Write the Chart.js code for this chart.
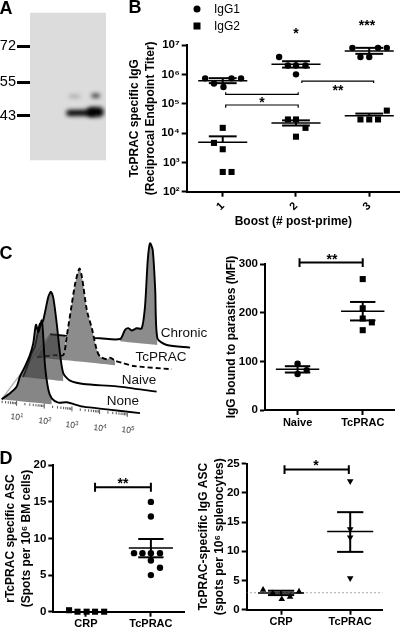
<!DOCTYPE html>
<html>
<head>
<meta charset="utf-8">
<title>TcPRAC figure</title>
<style>
html, body { margin: 0; padding: 0; background: #fff; }
body { position: relative; width: 400px; height: 627px; overflow: hidden; font-family: "Liberation Sans"; color: #000; }
canvas { position: absolute; }
.t { position: absolute; transform: translate(-50%, -50%); white-space: nowrap; line-height: 1; }
.letter { font-weight: bold; font-size: 18px; }
.star { font-weight: bold; font-size: 14px; }
.hist { font-size: 13.5px; color: #111; }
.dec { font-size: 8.5px; color: #333; }
.dec sup { font-size: 6px; vertical-align: 3px; line-height: 0; }
.leg { font-size: 12px; transform: translate(0, -50%); }
.mark { position: absolute; width: 7px; height: 7px; background: #000; transform: translate(-50%, -50%); }
</style>
</head>
<body>
<canvas id="blot" width="110" height="170" style="left:0;top:0"></canvas>
<canvas id="boost" width="274" height="240" style="left:126px;top:0"></canvas>
<canvas id="flow" width="210" height="190" style="left:0;top:240px"></canvas>
<canvas id="mfi" width="195" height="195" style="left:205px;top:240px"></canvas>
<canvas id="bm" width="190" height="187" style="left:0;top:440px"></canvas>
<canvas id="spleen" width="205" height="187" style="left:195px;top:440px"></canvas>

<div class="t letter" style="left:6px;top:8px">A</div>
<div class="t letter" style="left:135px;top:7px">B</div>
<div class="t letter" style="left:6px;top:253px">C</div>
<div class="t letter" style="left:6px;top:458px">D</div>

<div class="mark" style="left:197px;top:9px;border-radius:50%"></div>
<div class="t leg" style="left:214px;top:9px">IgG1</div>
<div class="mark" style="left:197px;top:26px"></div>
<div class="t leg" style="left:214px;top:26px">IgG2</div>

<div class="t star" style="left:296px;top:33px">*</div>
<div class="t star" style="left:367px;top:25px">***</div>
<div class="t star" style="left:262px;top:102px">*</div>
<div class="t star" style="left:338px;top:90px">**</div>
<div class="t star" style="left:332px;top:259px">**</div>
<div class="t star" style="left:123px;top:483px">**</div>
<div class="t star" style="left:316px;top:465px">*</div>

<div class="t hist" style="left:184px;top:333px">Chronic</div>
<div class="t hist" style="left:161px;top:357px">TcPRAC</div>
<div class="t hist" style="left:139px;top:380px">Naive</div>
<div class="t hist" style="left:123px;top:401px">None</div>

<div class="t dec" style="left:17px;top:417px;transform:translate(-50%,-50%) rotate(6deg)">10<sup>1</sup></div>
<div class="t dec" style="left:45px;top:421px;transform:translate(-50%,-50%) rotate(6deg)">10<sup>2</sup></div>
<div class="t dec" style="left:72px;top:425px;transform:translate(-50%,-50%) rotate(6deg)">10<sup>3</sup></div>
<div class="t dec" style="left:100px;top:428px;transform:translate(-50%,-50%) rotate(6deg)">10<sup>4</sup></div>
<div class="t dec" style="left:128px;top:430px;transform:translate(-50%,-50%) rotate(6deg)">10<sup>5</sup></div>

<script src="https://cdn.jsdelivr.net/npm/chart.js"></script>
<script>
// panel A
const laneLabels = ['1', '2'];
const markerKda = [72, 55, 43];
const bandMainLeftX = [1.6, 2.2], bandMainLeftKda = [43.8, 43.9];
const bandMainRightX = [2.2, 2.39], bandMainRightKda = [44.1, 44.1];
const bandUpperLeftX = [1.63, 1.85], bandUpperLeftKda = [49.6, 49.6];
const bandUpperRightX = [2.24, 2.37], bandUpperRightKda = [49.8, 49.8];

// panel B
const boostTicks = [1e2, 1e3, 1e4, 1e5, 1e6, 1e7];
const boostTickLabels = ['10²', '10³', '10⁴', '10⁵', '10⁶', '10⁷'];
const igg1X = [0.76, 0.88, 1.01, 1.12, 1.25, 1.77, 1.89, 2, 2.13, 2, 2.77, 2.88, 3, 3.12, 3.24];
const igg1Y = [7.3e5, 4.9e5, 3.7e5, 7.3e5, 7.3e5, 3.9e6, 2e6, 2e6, 2e6, 1e6, 8e6, 3.9e6, 3.9e6, 8e6, 8e6];
const igg2X = [1, 0.88, 1, 1, 1.12, 1.89, 2, 2.13, 2, 2.88, 3, 3.12, 3.24];
const igg2Y = [1.5e4, 4.6e3, 2.8e3, 4.7e2, 4.7e2, 2.9e4, 2.9e4, 1.5e4, 7.5e3, 2.9e4, 2.9e4, 2.9e4, 5.8e4];
const boostGroups = [1, 2, 3];
const igg1Mean = [6.1e5, 2.2e6, 6.3e6], igg1Hi = [7.4e5, 2.8e6, 8e6], igg1Lo = [5e5, 1.7e6, 5e6];
const igg2Mean = [4.8e3, 2.2e4, 3.9e4], igg2Hi = [7.7e3, 2.7e4, 4.6e4], igg2Lo = [4.8e3, 1.8e4, 3.9e4];
const sig1X = [1.04, 1.04, 2.03, 2.03], sig1Y = [2.43e5, 2.08e5, 2.08e5, 2.43e5];
const sig2X = [1.04, 1.04, 2.03, 2.03], sig2Y = [7.3e4, 9e4, 9e4, 7.3e4];
const sig3X = [2.08, 2.08, 3.06, 3.06], sig3Y = [5.07e5, 5.9e5, 5.9e5, 5.07e5];

// panel C histograms: decades from the start of each trace, height above its baseline
const noneD = [0, 0.3, 0.54, 0.66, 0.84, 1.02, 1.14, 1.24, 1.33, 1.45, 1.51, 1.57, 1.69, 1.81, 2.05, 2.35, 2.95, 3.8, 5];
const noneC = [0, 6.8, 14, 24.5, 35, 47, 59, 78, 71, 83, 63.5, 37, 14, 6, 2.3, 3.5, 0.8, 0.5, 0];
const naiveD = [0, 0.13, 0.31, 0.43, 0.61, 0.71, 0.8, 0.92, 1.01, 1.1, 1.22, 1.34, 1.46, 1.7, 2.18, 3.39, 4.83];
const naiveC = [0, 9, 24.5, 31.5, 55, 57, 67.5, 83, 88, 81.7, 57, 27, 7.7, 1, -1, 0, -1.3];
const tcpracD = [0, 0.66, 0.96, 1.08, 1.27, 1.39, 1.54, 1.63, 1.81, 1.99, 2.17, 2.29, 2.53, 2.65, 2.83, 3.13, 3.49, 4.88];
const tcpracC = [0, 4, 5, 23.7, 57.5, 78, 93, 85, 52, 34.5, 13, 7, 5, 7, 4.5, 2.7, 1, 1.5];
const chronicD = [0, 1.2, 1.81, 2.53, 2.71, 2.83, 2.95, 3.13, 3.31, 3.43, 3.53, 3.61, 3.71, 3.8, 3.88, 4.22, 5.06];
const chronicC = [0, 0.3, 1, 2.3, 12, 14, 12, 14.7, 15, 37, 84, 101, 94.6, 55, 6.7, 1, 0.7];

// panel C dot plot
const mfiLabels = ['Naive', 'TcPRAC'];
const mfiNaiveX = [1, 1.14, 1], mfiNaiveY = [95, 82, 74];
const mfiTcpracX = [2, 2, 2, 2.14, 2], mfiTcpracY = [269, 209, 188, 180, 164];
const mfiMean = [83.5, 203], mfiHi = [90, 222], mfiLo = [77, 184];
const mfiSigX = [1.03, 1.03, 1.03, 2, 2, 2], mfiSigY = [312, 294, 303, 303, 312, 294];

// panel D left
const bmLabels = ['CRP', 'TcPRAC'];
const bmCrpX = [0.74, 0.87, 1.01, 1.14, 1.28], bmCrpY = [0.2, 0, 0, 0, 0];
const bmTcpracX = [2, 2, 1.74, 1.87, 2, 2.14, 2, 2.14, 2], bmTcpracY = [15, 13, 8, 8, 8, 8, 7, 6, 5];
const bmMean = [0, 8.7], bmHi = [0, 9.93], bmLo = [0, 7.43];
const bmSigX = [1.14, 1.14, 1.14, 2, 2, 2], bmSigY = [17.6, 16.4, 17, 17, 17.6, 16.4];

// panel D right
const spleenLabels = ['CRP', 'TcPRAC'];
const spleenCrpX = [0.74, 0.88, 1.01, 1.13, 1.26], spleenCrpY = [3.4, 2.8, 1.8, 2.2, 3.1];
const spleenTcpracX = [2, 2, 2, 2], spleenTcpracY = [22, 13.8, 12.4, 5.4];
const spleenMean = [2.85, 13.4], spleenHi = [3.25, 16.7], spleenLo = [2.5, 9.9];
const spleenSigX = [1.05, 1.05, 1.05, 1.98, 1.98, 1.98], spleenSigY = [24.75, 23.25, 24, 24, 24.75, 23.25];
const spleenCutoffX = [0.5, 2.47], spleenCutoffY = [2.9, 2.9];

const BOLD = { family: 'Liberation Sans', weight: 'bold', size: 11.5 };
Chart.defaults.font.family = 'Liberation Sans';
Chart.defaults.color = '#000';

function pts(xs, ys) {
  return xs.map((x, i) => ({ x: x, y: ys[i] }));
}

function line(xs, ys, width, extra) {
  return Object.assign({
    data: pts(xs, ys), showLine: true, borderColor: '#000', borderWidth: width,
    pointRadius: 0, tension: 0, clip: false
  }, extra || {});
}

function dots(xs, ys, style, radius, rotation) {
  return {
    data: pts(xs, ys), pointStyle: style, pointRadius: radius, pointRotation: rotation || 0,
    pointBackgroundColor: '#000', pointBorderColor: '#000', pointBorderWidth: 0, clip: false
  };
}

// mean line, SEM stem and caps for each group
function meanBars(centers, mean, hi, lo, halfMean, halfCap) {
  const out = [];
  centers.forEach((c, i) => {
    out.push(line([c - halfMean, c + halfMean], [mean[i], mean[i]], 1.5));
    if (hi[i] === lo[i]) return;
    out.push(line([c, c], [lo[i], hi[i]], 2));
    out.push(line([c - halfCap, c + halfCap], [hi[i], hi[i]], 2));
    if (lo[i] !== mean[i]) out.push(line([c - halfCap, c + halfCap], [lo[i], lo[i]], 2));
  });
  return out;
}

function baseScales(opts) {
  const tickCommon = { drawOnChartArea: false, drawTicks: true, tickLength: 5, tickWidth: 2, tickColor: '#000' };
  return {
    x: {
      type: 'linear', min: opts.xMin, max: opts.xMax,
      afterFit: a => { a.height = opts.bottom; },
      afterBuildTicks: a => { a.ticks = opts.xTicks.map(v => ({ value: v })); },
      grid: tickCommon, border: { color: '#000', width: 2 },
      ticks: Object.assign({ font: { weight: 'bold', size: 11 }, padding: 1, autoSkip: false, maxRotation: 0, minRotation: 0,
        callback: v => opts.xLabels[opts.xTicks.indexOf(v)] }, opts.xTickOpts || {}),
      title: opts.xTitle || { display: false }
    },
    y: {
      type: opts.yType || 'linear', min: opts.yMin, max: opts.yMax,
      afterFit: a => { a.width = opts.left; },
      afterBuildTicks: a => { a.ticks = opts.yTicks.map(v => ({ value: v })); },
      grid: tickCommon, border: { color: '#000', width: 2 },
      ticks: { font: BOLD, padding: 2, autoSkip: false, callback: opts.yLabel || (v => v) },
      title: { display: true, text: opts.yTitle, font: { weight: 'bold', size: 12, lineHeight: 1.38 }, padding: { top: opts.titleTop, bottom: 0 } }
    }
  };
}

function draw(id, datasets, scales, padding, plugins) {
  return new Chart(document.getElementById(id), {
    type: 'scatter',
    data: { datasets: datasets },
    plugins: plugins || [],
    options: {
      responsive: false, animation: false, events: [],
      layout: { autoPadding: false, padding: padding },
      plugins: { legend: { display: false }, tooltip: { enabled: false } },
      scales: scales
    }
  });
}

// ---- A: blot
const blotPaper = {
  id: 'blotPaper',
  beforeDatasetsDraw(chart) {
    const a = chart.chartArea, ctx = chart.ctx;
    ctx.save();
    ctx.fillStyle = '#dcdcdc';
    ctx.fillRect(a.left, a.top, a.width, a.height);
    ctx.restore();
    ctx.filter = 'blur(2px)';
  },
  afterDatasetsDraw(chart) { chart.ctx.filter = 'none'; }
};
draw('blot', [
  line(bandMainLeftX, bandMainLeftKda, 6, { borderCapStyle: 'round', clip: undefined }),
  line(bandMainRightX, bandMainRightKda, 10, { borderCapStyle: 'round', clip: undefined }),
  line(bandUpperLeftX, bandUpperLeftKda, 3, { borderColor: '#a0a0a0', borderCapStyle: 'round', clip: undefined }),
  line(bandUpperRightX, bandUpperRightKda, 4, { borderColor: '#333', borderCapStyle: 'round', clip: undefined })
], {
  x: {
    type: 'linear', position: 'top', min: 0.556, max: 2.58,
    afterFit: a => { a.height = 12.7; },
    afterBuildTicks: a => { a.ticks = [1, 2].map(v => ({ value: v })); },
    grid: { display: false }, border: { display: false },
    ticks: { font: { size: 13 }, padding: 0, callback: v => laneLabels[v - 1] }
  },
  y: {
    type: 'logarithmic', min: 30.8, max: 92.5,
    afterFit: a => { a.width = 30; },
    afterBuildTicks: a => { a.ticks = markerKda.map(v => ({ value: v })); },
    grid: { drawOnChartArea: false, tickLength: 13, tickWidth: 3, tickColor: '#000' },
    border: { display: false },
    ticks: { font: { size: 14.5 }, padding: 1, autoSkip: false, callback: v => String(v) }
  }
}, { right: 4, bottom: 8 }, [blotPaper]);

// ---- B: titers
draw('boost', [].concat(
  [dots(igg1X, igg1Y, 'circle', 3.2), dots(igg2X, igg2Y, 'rect', 4.3)],
  meanBars(boostGroups, igg1Mean, igg1Hi, igg1Lo, 0.335, 0.19),
  meanBars(boostGroups, igg2Mean, igg2Hi, igg2Lo, 0.335, 0.19),
  [line(sig1X, sig1Y, 1.2), line(sig2X, sig2Y, 1.2), line(sig3X, sig3Y, 1.2)]
), baseScales({
  xMin: 0.508, xMax: 3.42, xTicks: boostGroups, xLabels: ['1', '2', '3'],
  xTickOpts: { maxRotation: 45, minRotation: 45, padding: 3 },
  xTitle: { display: true, text: 'Boost (# post-prime)', font: { weight: 'bold', size: 12 }, padding: { top: 0, bottom: 11 } },
  bottom: 48.3, left: 60.7,
  yType: 'logarithmic', yMin: 1e2, yMax: 1e7, yTicks: boostTicks,
  yLabel: v => boostTickLabels[boostTicks.indexOf(v)],
  yTitle: ['TcPRAC specific IgG', '(Reciprocal Endpoint Titer)'], titleTop: 0
}), { top: 45 });

// ---- C: overlay histograms, each trace shifted back and sheared
const layerDx = [0, 0.77, 1.27, 1.75];
const layerDy = [0, 22.3, 42, 65];
const SHEAR = 2.77;
const histD = [noneD, naiveD, tcpracD, chronicD];
const histC = [noneC, naiveC, tcpracC, chronicC];
const histFillFrom = [0, 0, 0.96, 2.53];
const histFillTo = [1.81, 1.46, 2.83, 3.88];
const histFillColor = ['rgba(60,60,60,0.62)', 'rgba(60,60,60,0.62)', '#8c8c8c', '#8c8c8c'];

const flowSets = [];
histD.forEach((ds, i) => {
  const cs = histC[i];
  const xs = ds.map(d => d + layerDx[i]);
  const height = (d, c) => layerDy[i] + c - SHEAR * d;
  const idx = ds.map((d, k) => k).filter(k => ds[k] >= histFillFrom[i] && ds[k] <= histFillTo[i]);
  const baseIndex = flowSets.length + 2;
  flowSets.push(line(xs, ds.map((d, k) => height(d, cs[k])), 1.9,
    { tension: 0.25, borderDash: i === 2 ? [5, 3] : [] }));
  flowSets.push(line(idx.map(k => xs[k]), idx.map(k => height(ds[k], cs[k])), 0,
    { tension: 0.25, fill: { target: baseIndex }, backgroundColor: histFillColor[i] }));
  flowSets.push(line(idx.map(k => xs[k]), idx.map(k => height(ds[k], 0)), 0));
});
flowSets.push(line([0, layerDx[3]], [0, layerDy[3]], 1.4, { borderColor: '#b0b0b0' }));

// grey plane between the back trace baseline and the TcPRAC baseline, left of the TcPRAC peak
const planeEnd = layerDx[2] + histFillFrom[2] + 0.06;
const planeMidX = [layerDx[2], layerDx[3], planeEnd];
const planeTop = [layerDy[2], layerDy[3], layerDy[3] - SHEAR * (planeEnd - layerDx[3])];
const planeBottom = [layerDy[2], layerDy[2] - SHEAR * (layerDx[3] - layerDx[2]), layerDy[2] - SHEAR * (planeEnd - layerDx[2])];
const planeBase = flowSets.length + 1;
flowSets.push(line(planeMidX, planeTop, 0, { fill: { target: planeBase }, backgroundColor: '#8c8c8c' }));
flowSets.push(line(planeMidX, planeBottom, 0));

const decadeStart = 0.54;
const majorX = [0, 1, 2, 3, 4].map(k => decadeStart + k);
const minorX = [];
for (let k = -1; k < 4; k++) {
  for (let m = 2; m < 10; m++) minorX.push(decadeStart + k + Math.log10(m));
}
const axisY = xs => xs.map(x => -SHEAR * x - 2.5);
const tickDots = (xs, r) => ({
  data: pts(xs, axisY(xs)), pointStyle: 'line', pointRotation: 90, pointRadius: r,
  pointBorderColor: '#555', pointBorderWidth: 1, clip: false
});
flowSets.unshift(tickDots(majorX, 2.5), tickDots(minorX.filter(x => x > 0), 1.2));
// unshift moved every dataset by two, so shift the fill targets to match
flowSets.forEach(s => { if (s.fill) s.fill.target += 2; });

draw('flow', flowSets, {
  x: { type: 'linear', display: false, min: -0.06, max: 7.53 },
  y: { type: 'linear', display: false, min: -30.7, max: 159.3 }
}, 0);

// ---- C right: MFI
draw('mfi', [].concat(
  [dots(mfiNaiveX, mfiNaiveY, 'circle', 3.2), dots(mfiTcpracX, mfiTcpracY, 'rect', 4.3)],
  meanBars([1, 2], mfiMean, mfiHi, mfiLo, 0.333, 0.195),
  [line(mfiSigX, mfiSigY, 2)]
), baseScales({
  xMin: 0.5, xMax: 2.48, xTicks: [1, 2], xLabels: mfiLabels, bottom: 25, left: 60,
  yMin: 0, yMax: 300, yTicks: [0, 100, 200, 300],
  yTitle: 'IgG bound to parasites (MFI)', titleTop: 18.5
}), { top: 24, right: 6 });

// ---- D left: bone marrow
draw('bm', [].concat(
  [dots(bmCrpX, bmCrpY, 'rect', 4.3), dots(bmTcpracX, bmTcpracY, 'circle', 3.2)],
  meanBars([2], [bmMean[1]], [bmHi[1]], [bmLo[1]], 0.34, 0.195),
  [line(bmSigX, bmSigY, 2)]
), baseScales({
  xMin: 0.497, xMax: 2.51, xTicks: [1, 2], xLabels: bmLabels, bottom: 15.3, left: 53.3,
  yMin: 0, yMax: 20, yTicks: [0, 5, 10, 15, 20],
  yTitle: ['rTcPRAC specific ASC', '(Spots per 10⁶ BM cells)'], titleTop: 2
}), { top: 25.3, right: 6 });

// ---- D right: spleen
draw('spleen', [].concat(
  [dots(spleenCrpX, spleenCrpY, 'triangle', 3.8), dots(spleenTcpracX, spleenTcpracY, 'triangle', 3.8, 180)],
  meanBars([1, 2], spleenMean, spleenHi, spleenLo, 0.333, 0.19),
  [line(spleenSigX, spleenSigY, 2),
   line(spleenCutoffX, spleenCutoffY, 1, { borderDash: [1, 3], borderColor: '#555' })]
), baseScales({
  xMin: 0.503, xMax: 2.47, xTicks: [1, 2], xLabels: spleenLabels, bottom: 17.3, left: 51.7,
  yMin: 0, yMax: 25, yTicks: [0, 5, 10, 15, 20, 25],
  yTitle: ['TcPRAC-specific IgG ASC', '(spots per 10⁶ splenocytes)'], titleTop: 0
}), { top: 23.7, right: 17.3 });
</script>
</body>
</html>
